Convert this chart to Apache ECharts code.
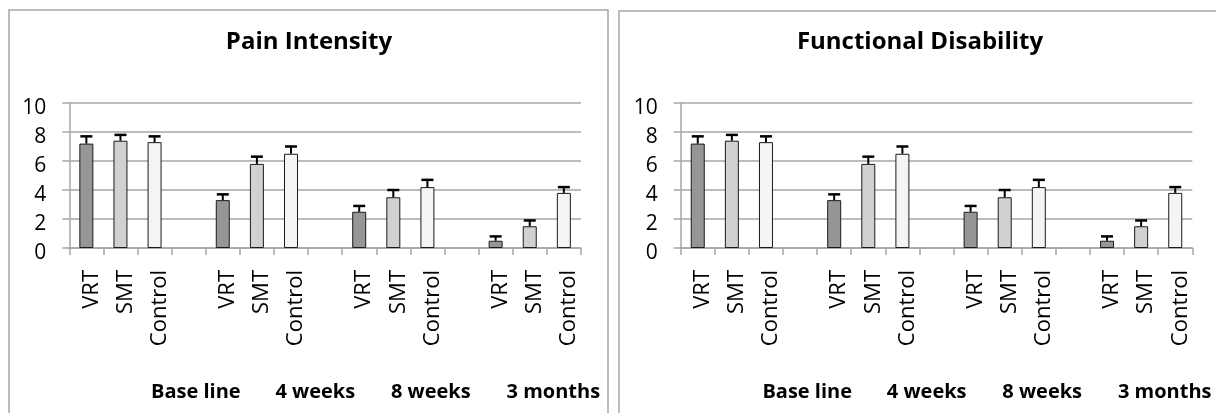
<!DOCTYPE html>
<html>
<head>
<meta charset="utf-8">
<script src="https://cdn.jsdelivr.net/npm/echarts@6/dist/echarts.min.js"></script>
<style>
  html, body { margin: 0; padding: 0; background: #fff; }
  #chart { width: 1216px; height: 413px; }
</style>
</head>
<body>
<div id="chart"></div>
<script>
// Study arms and assessment time points
const arms = ['VRT', 'SMT', 'Control'];
const timePoints = ['Base line', '4 weeks', '8 weeks', '3 months'];
const yTicks = [0, 2, 4, 6, 8, 10];

// Pain intensity: mean and error per arm at each time point
const painVRT = [7.2, 3.3, 2.5, 0.5];
const painSMT = [7.4, 5.8, 3.5, 1.5];
const painControl = [7.3, 6.5, 4.2, 3.8];
const painErrVRT = [0.5, 0.4, 0.4, 0.3];
const painErrSMT = [0.4, 0.5, 0.5, 0.4];
const painErrControl = [0.4, 0.5, 0.5, 0.4];

// Functional disability: mean and error per arm at each time point
const disVRT = [7.2, 3.3, 2.5, 0.5];
const disSMT = [7.4, 5.8, 3.5, 1.5];
const disControl = [7.3, 6.5, 4.2, 3.8];
const disErrVRT = [0.5, 0.4, 0.4, 0.3];
const disErrSMT = [0.4, 0.5, 0.5, 0.4];
const disErrControl = [0.4, 0.5, 0.5, 0.4];

// ---- styling ----
const FONT = '"Open Sans", "Liberation Sans", sans-serif';
const armColors = ['#969696', '#d1d1d1', '#f4f4f4'];
const GRID_GREY = '#a6a6a6';
const plotTop = 103, plotHeight = 145, plotWidth = 511.6;
const gridLefts = [69.3, 680.7];
const titleCenters = [309, 920];
// centres of the time point captions, measured from the plot's left edge
const captionOffsets = [126.5, 246, 361.5, 484];

// Category axis: three arms per time point with an empty slot between time points
const categories = [];
timePoints.forEach((t, g) => {
  arms.forEach(a => categories.push(a));
  if (g < timePoints.length - 1) categories.push('');
});

function buildBars(series) {
  const out = categories.map(() => '-');
  timePoints.forEach((t, g) => {
    series.forEach((vals, a) => {
      out[g * 4 + a] = { value: vals[g], itemStyle: { color: armColors[a] } };
    });
  });
  return out;
}
function buildErr(series, errs) {
  const out = [];
  timePoints.forEach((t, g) => {
    series.forEach((vals, a) => {
      out.push([g * 4 + a, vals[g], errs[a][g]]);
    });
  });
  return out;
}

// Upper error bar: stem from the bar top plus a short cap
function renderErr(params, api) {
  const x = api.value(0), v = api.value(1), e = api.value(2);
  const base = api.coord([x, v]);
  const top = api.coord([x, v + e]);
  const half = 6;
  return {
    type: 'group',
    children: [
      { type: 'line', shape: { x1: base[0], y1: base[1], x2: top[0], y2: top[1] },
        style: { stroke: '#000', lineWidth: 2 } },
      { type: 'line', shape: { x1: top[0] - half, y1: top[1], x2: top[0] + half, y2: top[1] },
        style: { stroke: '#000', lineWidth: 2.5 } }
    ]
  };
}

const chartData = [
  { title: 'Pain Intensity', means: [painVRT, painSMT, painControl], errs: [painErrVRT, painErrSMT, painErrControl] },
  { title: 'Functional Disability', means: [disVRT, disSMT, disControl], errs: [disErrVRT, disErrSMT, disErrControl] }
];

const grids = [], xAxes = [], yAxes = [], series = [], graphics = [];

// Chart frames
graphics.push({ type: 'rect', shape: { x: 9, y: 10, width: 599, height: 500 },
  style: { fill: 'none', stroke: GRID_GREY, lineWidth: 1.5 }, z: 0 });
graphics.push({ type: 'rect', shape: { x: 619, y: 11, width: 700, height: 500 },
  style: { fill: 'none', stroke: GRID_GREY, lineWidth: 1.5 }, z: 0 });

chartData.forEach((p, i) => {
  const left = gridLefts[i];
  grids.push({ left: left, top: plotTop, width: plotWidth, height: plotHeight, containLabel: false });
  xAxes.push({
    type: 'category', gridIndex: i, data: categories,
    axisLine: { lineStyle: { color: GRID_GREY, width: 1.5 } },
    axisTick: { show: true, length: 7, interval: 0, lineStyle: { color: GRID_GREY, width: 1.5 } },
    axisLabel: {
      interval: 0, rotate: 90, margin: 22, color: '#000',
      formatter: v => (v ? '{c|' + v + '}' : ''),
      rich: { c: { fontSize: 22, fontFamily: FONT, color: '#000', padding: [10, 0, 0, 0] } }
    },
    splitLine: { show: false }
  });
  yAxes.push({
    type: 'value', gridIndex: i, min: yTicks[0], max: yTicks[yTicks.length - 1], interval: 2,
    axisLine: { show: true, lineStyle: { color: GRID_GREY, width: 1.5 } },
    axisTick: { show: true, length: 7, lineStyle: { color: GRID_GREY, width: 1.5 } },
    axisLabel: {
      margin: 23, color: '#000',
      formatter: v => '{n|' + v + '}',
      rich: { n: { fontSize: 21, fontFamily: FONT, color: '#000', padding: [10, 0, 0, 0] } }
    },
    splitLine: { show: true, lineStyle: { color: GRID_GREY, width: 1.5 } }
  });
  series.push({
    type: 'bar', xAxisIndex: i, yAxisIndex: i, barWidth: 14,
    data: buildBars(p.means),
    itemStyle: { borderColor: '#1a1a1a', borderWidth: 1 },
    silent: true, z: 2
  });
  series.push({
    type: 'custom', xAxisIndex: i, yAxisIndex: i,
    data: buildErr(p.means, p.errs),
    encode: { x: 0, y: 1 },
    renderItem: renderErr, silent: true, z: 3
  });
  graphics.push({
    type: 'text', x: titleCenters[i], y: 42, z: 5,
    style: { text: p.title, font: 'bold 24px ' + FONT, fill: '#000', textAlign: 'center', textVerticalAlign: 'middle' }
  });
  timePoints.forEach((t, g) => {
    graphics.push({
      type: 'text', x: left + captionOffsets[g], y: 392, z: 5,
      style: { text: t, font: 'bold 20px ' + FONT, fill: '#000', textAlign: 'center', textVerticalAlign: 'middle' }
    });
  });
});

const chart = echarts.init(document.getElementById('chart'), null, { renderer: 'canvas' });
chart.setOption({
  animation: false,
  backgroundColor: '#fff',
  grid: grids, xAxis: xAxes, yAxis: yAxes, series: series,
  graphic: graphics
});
</script>
</body>
</html>
